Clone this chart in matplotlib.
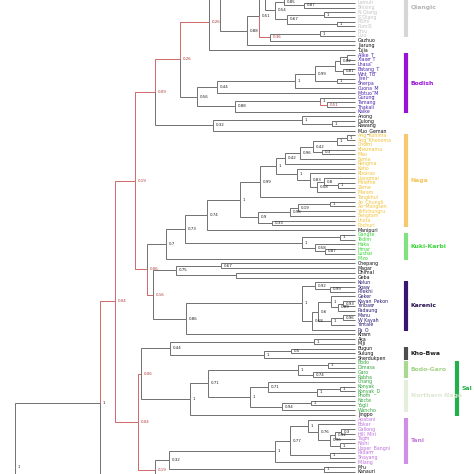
import matplotlib
matplotlib.use("Agg")
import matplotlib.pyplot as plt

# ---- tree (newick-like): internal label = "support|depth", '*' = weak node drawn in red
qiang_part = "(((Horpa,Ergong)|330,(Zhaba,Queyu)|330)|300,(Guiqiong,(Muya,Prinmi)|330)|310)|280"
qiang_core = ("((Namuyi,(Lamuh,Shixing)0.87|304)0.85|284,"
              "((N_Qiang,S_Qiang)1|324,(PGmi,PumiS)1|337)0.67|287)0.54|275")
top_clade = ("(((Naxi,Yi)|300,(((" + qiang_part + "," + qiang_core + ")|265,"
             "((Ersu,Lizu)1|320,Gazhuo)0.36*|270)0.51|259,Jiarung)0.88|247)|220,Tujia)0.26*|209")
bodish = ("(((((((Alike_T,Xiaxe_T)|347,Lhasa)0.82|340,(Batang_T,Wnt_TB)0.81|343)|335,"
          "(Jirel,Sherpa)1|337)0.99|315,Cuona_M)1|295,Motuo_M)0.44|217,"
          "((Gurung,(Tamang,Thakali)0.51*|327)1|320,Kaike)0.88|235)0.56|197")
nungish = "((Anong,(Dulong,Rawang)1|332)1|302,Muo_Geman)0.32|213"
naga = ("((((((((Ang_Kohima,Ang_Khonoma)1|347,Chokri)1|337,(Kheznama,Mao)0.3|322)0.42|313,Sema)0.96|300,"
        "Rengma)0.42|285,(Kaho,(Khoirao,((Liangmai,(Mzieme,Zeme)1|338)0.8|324,Maram)0.58|317)0.83|310)1|297)1|276,"
        "Tangkhul)0.99|260,"
        "((((Ao_Chungli,Ao_Mongsen)1|330,Yimchungru)0.19|298,Sangtam)0.96|290,(Lhota,Pochuri)0.33|272)0.9|258)1|240")
kuki = "((Gangte,Tedim)1|340,(Haka,(Hmar,Lushai)0.87|325)0.58|315)1|302"
karen = ("((Kelun,(Sgaw,Pilekhi)0.99|330)0.92|315,"
         "(((Geker,((Kayan_Pekon,Yinbaw)0.93|343,Padaung)0.89|338)1|331,"
         "((Manu,W_Kayah)0.96|343,Yintale)1|331)0.6|318,Pa_O)0.68|312)1|302")
mid_clade = ("((((" + naga + ",Manipuri)0.74|207," + kuki + ")0.73|185,Mizo)0.7|166,"
             "(((Chepang,Magar)0.67|221,(Dhimal,Geba)|236)0.75|176,(" + karen + ",Kham)0.86|186)0.16*|153)0.06*|147")
sal = ("((((Bodo,Dimasa)1|328,(Garo,Rabha)0.74|313)1|298,"
       "((Chang,((Konyak,Konyak_D)1|340,Phom)1|317)0.71|268,((Nocte,Yogli)1|311,Wancho)0.94|282)1|250)0.71|208,Jingpo)1|190")
kho_bwa = "((Aka,Miji)1|314,((Bugun,Sulung)0.5|291,Sherdukpen)1|264)0.44|170"
tani = ("(((Apatani,(Bokar,(((Gallong,Hill_Miri)0.3|341,Tagin)0.92|335,(Nishi,Upper_Bangni)1|340)0.96|330)0.76|318)1|308,"
        "(Padam,Shayang)1|330)0.77|290,Milang)1|275")
low_clade = ("((" + kho_bwa + "," + sal + ")0.06*|141,((" + tani + ",(Mru,Kanauri)1|324)0.32|169,"
             "(Bunan,Tinani)|300)0.19*|155)0.04*|138")
outer_y = "(((((Rongmei,Thangal)|300,Puiron)|280,Anal)|260,Chothe)|240,Moyon)|200"
outer_z = "(((Darang,Idu)|300,(Zakhring,Meyor)|300)|250,((Lisu,Lahu)|300,(Burmese,Achang)|300)|250)|150"
tree_str = ("((((((" + top_clade + "," + bodish + ")0.26*|180," + nungish + ")0.09*|155," + mid_clade + ")0.19*|135,"
            + low_clade + ")0.04*|115," + outer_y + ")1|100," + outer_z + ")1|15,Lepcha)|-20;")

tip_depth = 355
first_visible = "Lamuh"     # leaf sitting near the top edge of the crop
view_leaves = (-0.59, 99.47)  # visible window, in leaf steps from first_visible

# leaf text colours
qiangic = ["Horpa", "Ergong", "Zhaba", "Queyu", "Guiqiong", "Muya", "Prinmi", "Namuyi", "Lamuh", "Shixing",
           "N_Qiang", "S_Qiang", "PGmi", "PumiS", "Ersu", "Lizu"]
bodish_l = ["Alike_T", "Xiaxe_T", "Lhasa", "Batang_T", "Wnt_TB", "Jirel", "Sherpa", "Cuona_M", "Motuo_M",
            "Gurung", "Tamang", "Thakali", "Kaike"]
naga_l = ["Ang_Kohima", "Ang_Khonoma", "Chokri", "Kheznama", "Mao", "Sema", "Rengma", "Kaho", "Khoirao",
          "Liangmai", "Mzieme", "Zeme", "Maram", "Tangkhul", "Ao_Chungli", "Ao_Mongsen", "Yimchungru",
          "Sangtam", "Lhota", "Pochuri"]
kuki_l = ["Gangte", "Tedim", "Haka", "Hmar", "Lushai", "Mizo"]
karen_l = ["Kelun", "Sgaw", "Pilekhi", "Geker", "Kayan_Pekon", "Yinbaw", "Padaung", "Manu", "W_Kayah",
           "Yintale", "Pa_O"]
sal_l = ["Bodo", "Dimasa", "Garo", "Rabha", "Chang", "Konyak", "Konyak_D", "Phom", "Nocte", "Yogli", "Wancho"]
tani_l = ["Apatani", "Bokar", "Gallong", "Hill_Miri", "Tagin", "Nishi", "Upper_Bangni", "Padam", "Shayang", "Milang"]
leaf_colors = {}
for names, c in [(qiangic, "#c4c4c4"), (bodish_l, "#4f25b0"), (naga_l, "#f2c23a"), (kuki_l, "#33d633"),
                 (karen_l, "#2b1a72"), (sal_l, "#2fa83a"), (tani_l, "#c072de")]:
    for n in names:
        leaf_colors[n] = c

# clade bars: name, first leaf, last leaf, bar colour, text colour, column
group_names = ["Qiangic", "Bodish", "Naga", "Kuki-Karbi", "Karenic", "Kho-Bwa", "Bodo-Garo", "Northern Naga", "Sal", "Tani"]
group_first = ["Queyu", "Alike_T", "Ang_Kohima", "Gangte", "Kelun", "Bugun", "Bodo", "Chang", "Bodo", "Apatani"]
group_last = ["Lizu", "Kaike", "Pochuri", "Mizo", "Pa_O", "Sherdukpen", "Rabha", "Wancho", "Jingpo", "Milang"]
group_bar = ["#d6d6d6", "#9a12d8", "#f6c96c", "#80e27e", "#3a1670", "#4d4d4d", "#a9d88f", "#e4efdb", "#22b04a", "#d08ee6"]
group_txt = ["#b4b4b4", "#9a12d8", "#f3c65e", "#3cd83c", "#2a1250", "#1e1e1e", "#a2d386", "#dbe8d1", "#22b04a", "#c57bdc"]
group_col = [0, 0, 0, 0, 0, 0, 0, 0, 1, 0]


def parse(s):
    pos = 0

    def read():
        nonlocal pos
        st = pos
        while pos < len(s) and s[pos] not in ",();":
            pos += 1
        return s[st:pos]

    def node():
        nonlocal pos
        if s[pos] == "(":
            pos += 1
            kids = [node()]
            while s[pos] == ",":
                pos += 1
                kids.append(node())
            pos += 1
            sup, _, x = read().partition("|")
            return {"kids": kids, "sup": sup.rstrip("*"), "red": sup.endswith("*"), "x": float(x)}
        return {"name": read(), "red": False, "x": tip_depth}
    return node()


root = parse(tree_str)
leaves = []


def layout(n):
    if "kids" not in n:
        n["y"] = len(leaves)
        leaves.append(n)
        return
    for k in n["kids"]:
        layout(k)
    n["y"] = sum(k["y"] for k in n["kids"]) / len(n["kids"])


layout(root)
leaf_y = {l["name"]: l["y"] for l in leaves}
top = leaf_y[first_visible]
y_lo, y_hi = top + view_leaves[0], top + view_leaves[1]

fig = plt.figure(figsize=(4.74, 4.74), dpi=100)
ax = fig.add_axes([0, 0, 1, 1])
gray, red = "#5a5a5a", "#c85050"


def draw(n):
    if "kids" not in n:
        return
    for k in n["kids"]:
        c = red if k["red"] else gray
        ax.plot([n["x"], n["x"], k["x"]], [n["y"], k["y"], k["y"]], color=c, lw=0.6,
                solid_joinstyle="miter", solid_capstyle="butt")
        draw(k)
    if n["sup"] and y_lo < n["y"] < y_hi:
        ax.text(n["x"] + 3, n["y"], n["sup"], fontsize=2.9, va="center", ha="left",
                color="#b03838" if n["red"] else "#222222")


draw(root)

for l in leaves:
    if y_lo <= l["y"] <= y_hi:
        ax.text(tip_depth + 3, l["y"], l["name"], fontsize=3.4, va="center", ha="left",
                color=leaf_colors.get(l["name"], "#111111"))

for name, a, b, bc, tc, col in zip(group_names, group_first, group_last, group_bar, group_txt, group_col):
    y0, y1 = leaf_y[a] - 0.3, leaf_y[b] + 0.3
    bx = 406 + 51 * col
    ax.plot([bx, bx], [y0, y1], color=bc, lw=3.0, solid_capstyle="butt")
    ax.text(bx + 5, (y0 + y1) / 2, name, fontsize=4.4, fontweight="bold", color=tc, va="center", ha="left")

ax.set_xlim(0, 474)
ax.set_ylim(y_hi, y_lo)
ax.axis("off")
fig.savefig("out.png", dpi=100)
